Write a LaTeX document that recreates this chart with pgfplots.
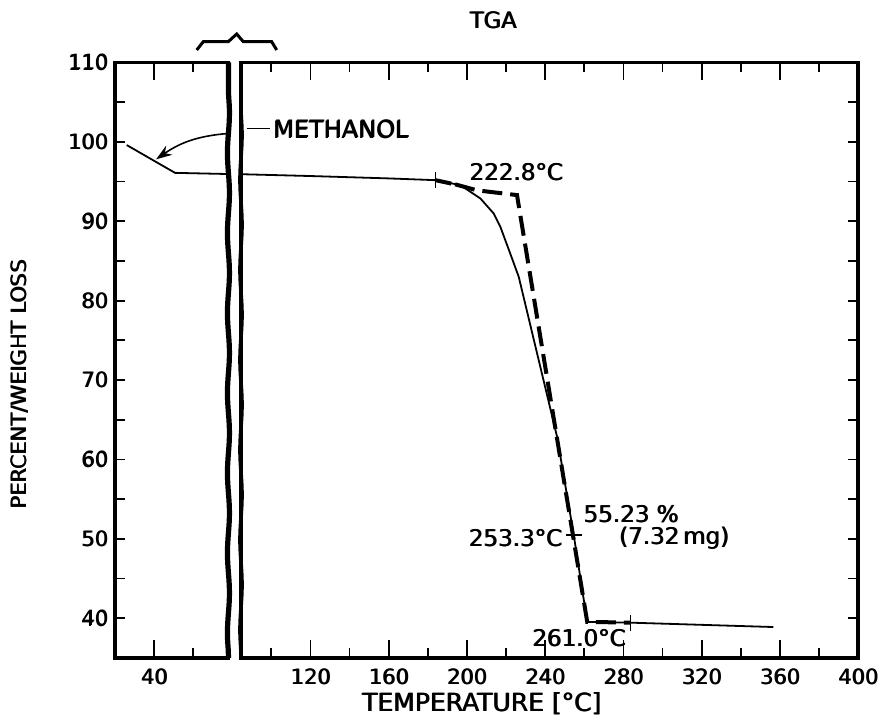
\documentclass[border=0pt]{standalone}
\usepackage{pgfplots}
\pgfplotsset{compat=1.18}
\usetikzlibrary{arrows.meta,decorations.pathmorphing}
\usepackage{fontspec}
\setmainfont{DejaVu Sans}
\newcommand\hv[1]{\leavevmode\rlap{\kern0.45pt\raisebox{0.15pt}{#1}}#1}
\begin{document}
\begin{tikzpicture}
\pgfplotsset{
 tgabase/.style={
  scale only axis, x=0.978pt, y=3.97pt, ymin=35, ymax=110,
  axis line style={line width=1.8pt},
  tick style={line width=0.9pt, black},
  major tick length=5pt, minor tick length=5pt,
  tick label style={font=\fontsize{10.5}{12}\selectfont},
  xticklabel style={yshift=-2pt},
  /pgf/number format/assume math mode=true,
  clip=false,
 }
}
\path (-57.5pt,-31.5pt) rectangle (387pt,329pt);
% left segment
\begin{axis}[tgabase, at={(0,0)}, anchor=south west, xmin=20, xmax=78,
  ytick={40,50,...,110}, minor ytick={45,55,...,105}, ytick pos=left,
  yticklabels={\hv{40},\hv{50},\hv{60},\hv{70},\hv{80},\hv{90},\hv{100},\hv{110}},
  xtick={60}, xticklabels={},
  extra x ticks={40}, extra x tick labels={\hv{40}},
  extra x tick style={major tick length=9pt}]
\addplot[black, line width=0.9pt] coordinates {(26,99.6) (50.7,96.1) (78,95.95)};
\draw[line width=2.6pt, decorate, decoration={snake, amplitude=0.5pt, segment length=40pt}] (rel axis cs:1,0) -- (rel axis cs:1,1);
\draw[-{Stealth[length=8pt,width=5.5pt]}, line width=0.8pt] (axis cs:77.8,101.06) to[bend right=15] (axis cs:41,97.8);
\end{axis}
% right segment
\begin{axis}[tgabase, at={(63pt,0)}, anchor=south west, xmin=84.5, xmax=400,
  ytick={40,45,...,110}, yticklabels={}, ytick pos=right,
  xtick={100,140,...,380}, xticklabels={},
  extra x ticks={120,160,...,400},
  extra x tick labels={\hv{120},\hv{160},\hv{200},\hv{240},\hv{280},\hv{320},\hv{360},\hv{400}},
  extra x tick style={major tick length=9pt}]
\addplot[black, line width=0.9pt] coordinates {(84.5,95.93) (120,95.7) (160,95.4) (183.9,95.18) (196.7,94.55) (206.9,92.87) (213.7,90.98) (217.1,89.3) (222.2,85.9) (226.5,83.0) (246.1,62.85) (254.6,50.5) (261.5,39.55) (283.6,39.45) (356.7,38.9)};
\addplot[black, line width=2pt] coordinates {(183.9,95.18) (192,94.75)};
\addplot[black, line width=2pt, dash pattern=on 10pt off 4pt] coordinates {(194,94.65) (205.2,93.9) (225.6,93.3) (261.5,39.55) (283.6,39.45)};
\addplot[black, only marks, mark=|, mark size=4pt, mark options={line width=0.8pt}] coordinates {(183.9,95.18) (283.6,39.45)};
\addplot[black, only marks, mark=-, mark size=4pt, mark options={line width=0.8pt}] coordinates {(254.6,50.5)};
\draw[line width=1.8pt, decorate, decoration={snake, amplitude=0.5pt, segment length=45pt}] (rel axis cs:0,0) -- (rel axis cs:0,1);
\draw[line width=0.8pt] (axis cs:87.5,101.7) -- (axis cs:99.4,101.7);
\node[anchor=west, inner sep=0pt, font=\fontsize{12}{14}\selectfont] at (axis cs:100.6,101.6) {\hv{METHANOL}};
\node[anchor=center, inner sep=0pt, font=\fontsize{11.5}{13}\selectfont] at (axis cs:225.1,96.2) {\hv{222.8°C}};
\node[anchor=west, inner sep=0pt, font=\fontsize{11.5}{13}\selectfont] at (axis cs:259.3,53.1) {\hv{55.23 \%}};
\node[anchor=west, inner sep=0pt, font=\fontsize{11.5}{13}\selectfont] at (axis cs:277.5,50.1) {\hv{(7.32\,mg)}};
\node[anchor=east, inner sep=0pt, font=\fontsize{11.5}{13}\selectfont] at (axis cs:248.8,50.1) {\hv{253.3°C}};
\node[anchor=center, inner sep=0pt, font=\fontsize{11.5}{13}\selectfont] at (axis cs:257.2,37.5) {\hv{261.0°C}};
\end{axis}
% brace above the break
\draw[line width=1.5pt] (40.85pt,304pt) -- (44.15pt,308.15pt) -- (56.65pt,308.15pt) -- (60.85pt,312pt) -- (64.15pt,308.15pt) -- (78.35pt,308.15pt) -- (80.85pt,304pt);
% titles
\node[font=\fontsize{11.3}{13}\selectfont] at (189pt,319pt) {\hv{TGA}};
\node[font=\fontsize{12.5}{14}\selectfont] at (183.25pt,-23pt) {\hv{TEMPERATURE [°C]}};
\node[rotate=90, font=\fontsize{10.5}{12}\selectfont] at (-47.5pt,136.5pt) {\hv{PERCENT/WEIGHT LOSS}};
\end{tikzpicture}
\end{document}
